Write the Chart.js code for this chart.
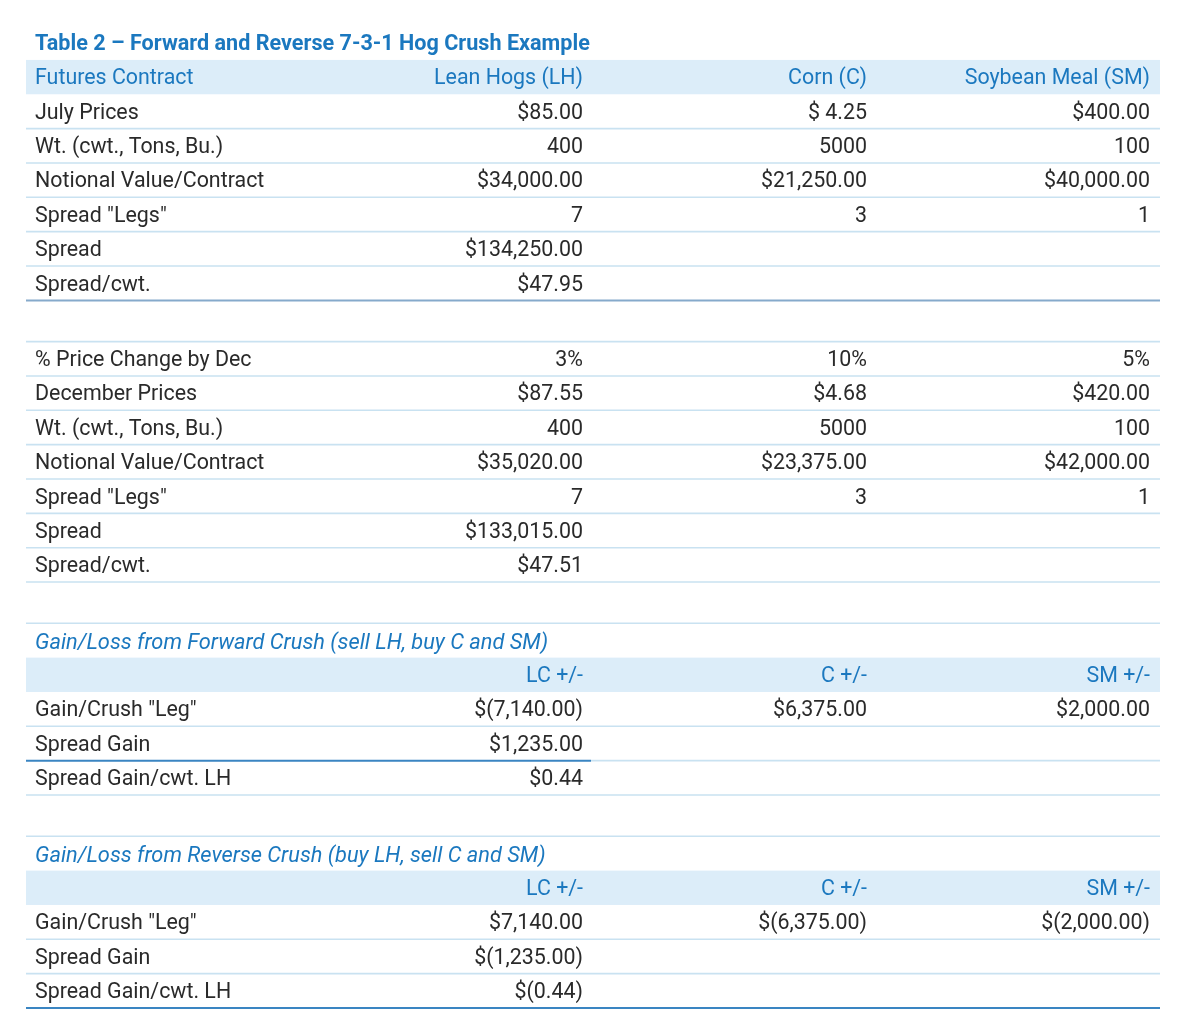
<!DOCTYPE html>
<html><head><meta charset="utf-8">
<script src="https://cdn.jsdelivr.net/npm/chart.js@4.4.1/dist/chart.umd.min.js"></script>
<style>html,body{margin:0;padding:0;background:#fff}#wrap{width:1200px;height:1035px;position:relative}</style>
</head><body><div id="wrap"><canvas id="c"></canvas></div>
<script>
// ---- data ----
const tableTitle = 'Table 2 \u2013 Forward and Reverse 7-3-1 Hog Crush Example';
const columnHeaders = ['Futures Contract', 'Lean Hogs (LH)', 'Corn (C)', 'Soybean Meal (SM)'];

const julyLabels = ['July Prices', 'Wt. (cwt., Tons, Bu.)', 'Notional Value/Contract', 'Spread "Legs"', 'Spread', 'Spread/cwt.'];
const julyLH = ['$85.00', '400', '$34,000.00', '7', '$134,250.00', '$47.95'];
const julyC  = ['$ 4.25', '5000', '$21,250.00', '3', '', ''];
const julySM = ['$400.00', '100', '$40,000.00', '1', '', ''];

const decLabels = ['% Price Change by Dec', 'December Prices', 'Wt. (cwt., Tons, Bu.)', 'Notional Value/Contract', 'Spread "Legs"', 'Spread', 'Spread/cwt.'];
const decLH = ['3%', '$87.55', '400', '$35,020.00', '7', '$133,015.00', '$47.51'];
const decC  = ['10%', '$4.68', '5000', '$23,375.00', '3', '', ''];
const decSM = ['5%', '$420.00', '100', '$42,000.00', '1', '', ''];

const fwdTitle = 'Gain/Loss from Forward Crush (sell LH, buy C and SM)';
const revTitle = 'Gain/Loss from Reverse Crush (buy LH, sell C and SM)';
const gainHeaders = ['', 'LC +/-', 'C +/-', 'SM +/-'];
const gainLabels = ['Gain/Crush "Leg"', 'Spread Gain', 'Spread Gain/cwt. LH'];
const fwdLH = ['$(7,140.00)', '$1,235.00', '$0.44'];
const fwdC  = ['$6,375.00', '', ''];
const fwdSM = ['$2,000.00', '', ''];
const revLH = ['$7,140.00', '$(1,235.00)', '$(0.44)'];
const revC  = ['$(6,375.00)', '', ''];
const revSM = ['$(2,000.00)', '', ''];

// ---- build row model ----
const rows = [];
function addRow(cells, opts) { rows.push(Object.assign({cells: cells, h: 1}, opts || {})); }
function addGap() { rows.push({gap: true, h: 1.2}); }

addRow(columnHeaders, {band: true, blue: true});
julyLabels.forEach((l, i) => addRow([l, julyLH[i], julyC[i], julySM[i]], {bottom: i === julyLabels.length - 1 ? 'mid' : 'light'}));
addGap();
decLabels.forEach((l, i) => addRow([l, decLH[i], decC[i], decSM[i]], {bottom: 'light', top: i === 0 ? 'light' : null}));
addGap();
addRow([fwdTitle, '', '', ''], {italic: true, blue: true, top: 'light'});
addRow(gainHeaders, {band: true, blue: true});
gainLabels.forEach((l, i) => addRow([l, fwdLH[i], fwdC[i], fwdSM[i]], {bottom: i === 1 ? 'split' : 'light'}));
addGap();
addRow([revTitle, '', '', ''], {italic: true, blue: true, top: 'light'});
addRow(gainHeaders, {band: true, blue: true});
gainLabels.forEach((l, i) => addRow([l, revLH[i], revC[i], revSM[i]], {bottom: i === 2 ? 'dark' : 'light'}));

let acc = 0;
rows.forEach(r => { r.y0 = acc; acc += r.h; r.y1 = acc; r.yc = (r.y0 + r.y1) / 2; });
const totalRows = acc;

// column anchors on the x scale (label left, then right-aligned value columns)
const colAnchors = [0, 548, 832, 1115];
const colAlign = ['left', 'right', 'right', 'right'];
const tableEdges = [-9, 1125];
const splitEnd = 556;

const C = {
  text: '#2a2a2a', blue: '#1b78bf', band: '#dcedf9',
  light: '#c9e2f1', mid: '#86aacb', dark: '#3a85c2'
};
const FONT = 'Roboto, "Liberation Sans", sans-serif';

const tablePlugin = {
  id: 'tablePlugin',
  beforeDraw(chart) {
    const ctx = chart.ctx, xs = chart.scales.x, ys = chart.scales.y;
    const xl = xs.getPixelForValue(tableEdges[0]), xr = xs.getPixelForValue(tableEdges[1]);
    ctx.save();
    rows.forEach(r => {
      if (r.band) {
        const t = ys.getPixelForValue(r.y0), b = ys.getPixelForValue(r.y1);
        ctx.fillStyle = C.band;
        ctx.fillRect(xl, t, xr - xl, b - t);
      }
    });
    function hline(y, x0, x1, color, w) {
      ctx.beginPath(); ctx.strokeStyle = color; ctx.lineWidth = w;
      ctx.moveTo(x0, y); ctx.lineTo(x1, y); ctx.stroke();
    }
    rows.forEach(r => {
      if (r.top) hline(ys.getPixelForValue(r.y0), xl, xr, C[r.top], 1.6);
      if (r.bottom) {
        const y = ys.getPixelForValue(r.y1);
        if (r.bottom === 'split') {
          const xm = xs.getPixelForValue(splitEnd);
          hline(y, xm, xr, C.light, 1.6);
          hline(y, xl, xm, C.dark, 2);
        } else {
          hline(y, xl, xr, C[r.bottom], r.bottom === 'light' ? 1.6 : 2);
        }
      }
    });
    ctx.restore();
  },
  afterDraw(chart) {
    const ctx = chart.ctx, xs = chart.scales.x, ys = chart.scales.y;
    ctx.save();
    ctx.textBaseline = 'middle';
    rows.forEach(r => {
      if (r.gap) return;
      const y = ys.getPixelForValue(r.yc) + (r.italic ? 3 : 2);
      ctx.fillStyle = r.blue ? C.blue : C.text;
      ctx.font = r.italic ? 'italic 21.8px ' + FONT : '21.4px ' + FONT;
      r.cells.forEach((txt, j) => {
        if (!txt) return;
        ctx.textAlign = colAlign[j];
        ctx.fillText(txt, xs.getPixelForValue(colAnchors[j]), y);
      });
    });
    ctx.restore();
  }
};

new Chart(document.getElementById('c'), {
  type: 'scatter',
  data: { datasets: [] },
  options: {
    responsive: true, maintainAspectRatio: false, animation: false,
    layout: { padding: { left: 35, right: 50, top: 0, bottom: 27 } },
    scales: {
      x: { type: 'linear', display: false, min: 0, max: 1115 },
      y: { type: 'linear', display: false, reverse: true, min: 0, max: totalRows }
    },
    plugins: {
      legend: { display: false },
      tooltip: { enabled: false },
      title: {
        display: true, text: tableTitle, align: 'start', color: '#1b78bf',
        font: { family: FONT, size: 21.6, weight: 'bold', lineHeight: 1.2 },
        padding: { top: 32, bottom: 2 }
      }
    }
  },
  plugins: [tablePlugin]
});
</script></body></html>
